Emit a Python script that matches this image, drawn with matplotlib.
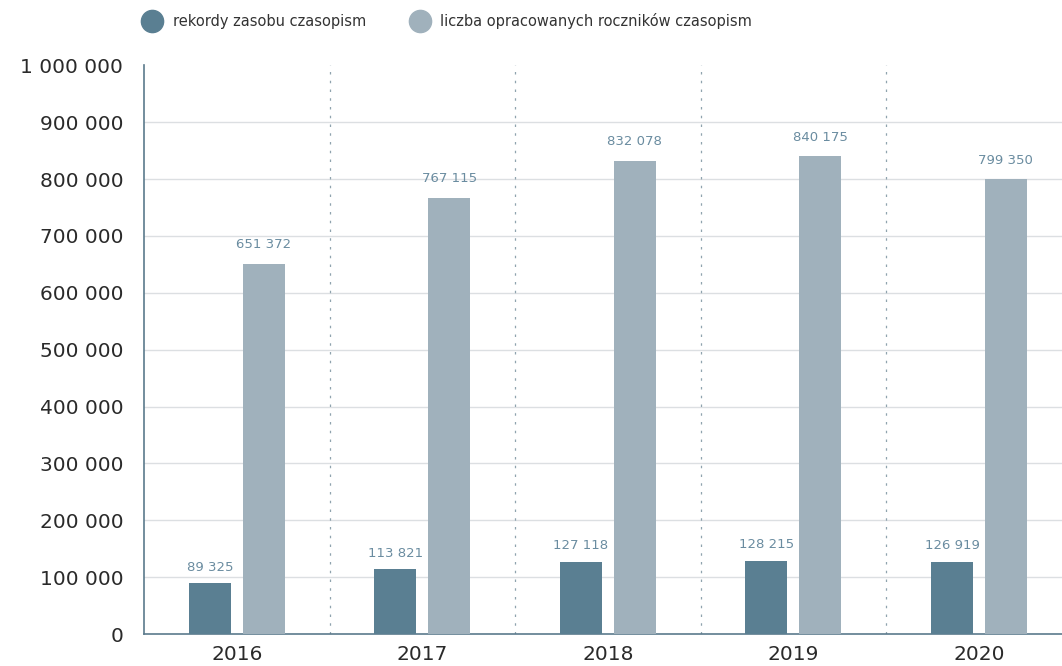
import numpy as np
import matplotlib.pyplot as plt
from matplotlib.lines import Line2D
from matplotlib.ticker import FuncFormatter

plt.rcParams["font.family"] = ["DejaVu Sans"]

# data
years = ["2016", "2017", "2018", "2019", "2020"]
records = [89325, 113821, 127118, 128215, 126919]
volumes = [651372, 767115, 832078, 840175, 799350]
series_names = ["rekordy zasobu czasopism", "liczba opracowanych roczników czasopism"]

DARK = "#5a7f92"
LIGHT = "#a0b1bc"
SPINE = "#5b7a8c"
LABEL = "#6a8ca0"


def fmt(v, pos=None):
    return f"{int(v):,}".replace(",", " ")


fig = plt.figure(figsize=(10.62, 6.66), dpi=100)
# axes run a little past the right edge of the figure, as in the original
ax = fig.add_axes([0.1356, 0.048, 0.8735, 0.854])

x = np.arange(len(years))
w = 0.226
off = 0.145
ax.bar(x - off, records, w, color=DARK, zorder=3)
ax.bar(x + off, volumes, w, color=LIGHT, zorder=3)

for xi, r, v in zip(x, records, volumes):
    ax.annotate(fmt(r), (xi - off, r), xytext=(0, 7), textcoords="offset points",
                ha="center", va="bottom", fontsize=9.5, color=LABEL)
    ax.annotate(fmt(v), (xi + off, v), xytext=(0, 9), textcoords="offset points",
                ha="center", va="bottom", fontsize=9.5, color=LABEL)

# dotted separators between years
for b in x[:-1] + 0.5:
    ax.axvline(b, color="#8fa3ae", lw=0.9, ls=(0, (2, 5)), zorder=1)

ax.set_xlim(-0.5, len(years) - 0.5)
ax.set_ylim(0, 1000000)
ax.set_yticks(np.arange(0, 1000001, 100000))
ax.yaxis.set_major_formatter(FuncFormatter(fmt))
ax.set_xticks(x)
ax.set_xticklabels(years)
ax.tick_params(axis="both", length=0, labelsize=14.5, colors="#2a2a2a")
ax.tick_params(axis="y", pad=15)
ax.tick_params(axis="x", pad=8)

for yv in np.arange(100000, 1000000, 100000):
    ax.axhline(yv, color="#dcdfe2", lw=1, zorder=0)

for s in ["top", "right"]:
    ax.spines[s].set_visible(False)
for s in ["left", "bottom"]:
    ax.spines[s].set_color(SPINE)
    ax.spines[s].set_linewidth(1.2)

handles = [Line2D([], [], ls="", marker="o", markersize=16, color=c)
           for c in (DARK, LIGHT)]
leg = fig.legend(handles, series_names, loc="center left", bbox_to_anchor=(0.124, 0.968),
                 ncol=2, frameon=False, fontsize=10.5, handletextpad=0.9,
                 columnspacing=3.2, handlelength=1.0)
for t in leg.get_texts():
    t.set_color("#333333")

fig.savefig("out.png", dpi=100)
